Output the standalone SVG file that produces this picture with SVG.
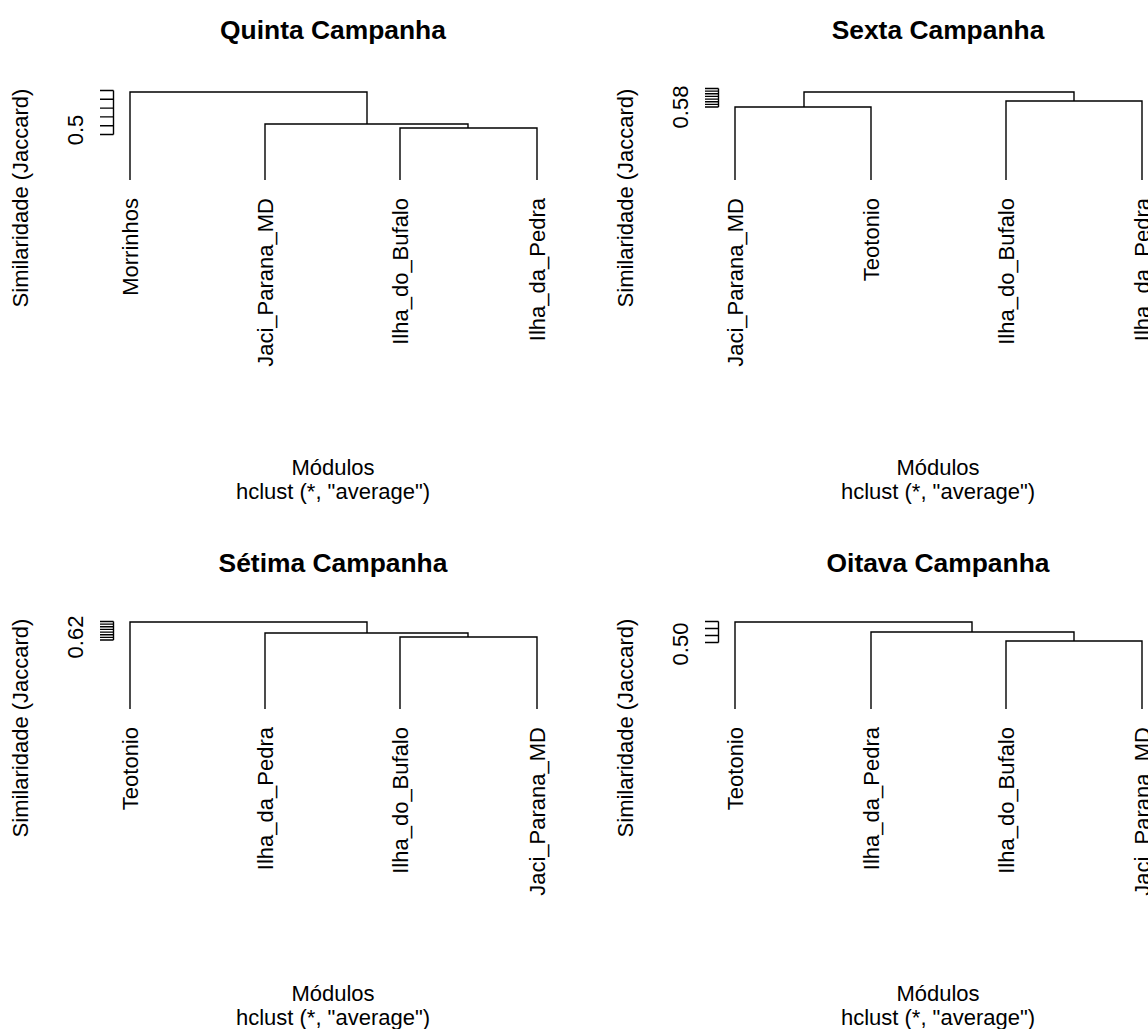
<svg xmlns="http://www.w3.org/2000/svg" width="1148" height="1029" viewBox="0 0 1148 1029">
<style>
text{font-family:"Liberation Sans",Arial,sans-serif;fill:#000}
.t{font-size:26.4px;font-weight:bold;text-anchor:middle}
.x{font-size:22px;text-anchor:middle}
.y{font-size:22px;text-anchor:middle}
.l{font-size:22px;text-anchor:end}
.d{fill:none;stroke:#000;stroke-width:1.4}
</style>
<rect width="1148" height="1029" fill="#fff"/>

<g id="quinta">
<text class="t" x="333" y="39">Quinta Campanha</text>
<text class="y" transform="translate(28,198) rotate(-90)">Similaridade (Jaccard)</text>
<text class="y" transform="translate(83,130) rotate(-90)">0.5</text>
<path class="d" d="M113.5,90.5V134.5M100,90.5H113.5M100,99.3H113.5M100,108.1H113.5M100,116.9H113.5M100,125.7H113.5M100,134.5H113.5"/>
<text class="l" transform="translate(137.5,198) rotate(-90)">Morrinhos</text>
<text class="l" transform="translate(272.5,198) rotate(-90)">Jaci_Parana_MD</text>
<text class="l" transform="translate(407.5,198) rotate(-90)">Ilha_do_Bufalo</text>
<text class="l" transform="translate(544.5,198) rotate(-90)">Ilha_da_Pedra</text>
<text class="x" x="333" y="475">Módulos</text>
<text class="x" x="333" y="499">hclust (*, "average")</text>
</g>

<g id="sexta">
<text class="t" x="938" y="39">Sexta Campanha</text>
<text class="y" transform="translate(633,198) rotate(-90)">Similaridade (Jaccard)</text>
<text class="y" transform="translate(688,107) rotate(-90)">0.58</text>
<path class="d" d="M718.5,88.5V107M705,88.5H718.5M705,91.1H718.5M705,93.8H718.5M705,96.4H718.5M705,99.1H718.5M705,101.7H718.5M705,104.4H718.5M705,107H718.5"/>
<text class="l" transform="translate(742.5,198) rotate(-90)">Jaci_Parana_MD</text>
<text class="l" transform="translate(878.5,198) rotate(-90)">Teotonio</text>
<text class="l" transform="translate(1013.5,198) rotate(-90)">Ilha_do_Bufalo</text>
<text class="l" transform="translate(1149.5,198) rotate(-90)">Ilha_da_Pedra</text>
<text class="x" x="938" y="475">Módulos</text>
<text class="x" x="938" y="499">hclust (*, "average")</text>
</g>

<g id="setima">
<text class="t" x="333" y="572">Sétima Campanha</text>
<text class="y" transform="translate(28,728) rotate(-90)">Similaridade (Jaccard)</text>
<text class="y" transform="translate(83,637) rotate(-90)">0.62</text>
<path class="d" d="M113.5,621.5V640M100,621.5H113.5M100,624.1H113.5M100,626.8H113.5M100,629.4H113.5M100,632.1H113.5M100,634.7H113.5M100,637.4H113.5M100,640H113.5"/>
<text class="l" transform="translate(137.5,727) rotate(-90)">Teotonio</text>
<text class="l" transform="translate(272.5,727) rotate(-90)">Ilha_da_Pedra</text>
<text class="l" transform="translate(407.5,727) rotate(-90)">Ilha_do_Bufalo</text>
<text class="l" transform="translate(544.5,727) rotate(-90)">Jaci_Parana_MD</text>
<text class="x" x="333" y="1001">Módulos</text>
<text class="x" x="333" y="1025">hclust (*, "average")</text>
</g>

<g id="oitava">
<text class="t" x="938" y="572">Oitava Campanha</text>
<text class="y" transform="translate(633,728) rotate(-90)">Similaridade (Jaccard)</text>
<text class="y" transform="translate(688,644) rotate(-90)">0.50</text>
<path class="d" d="M718.5,621.5V642.5M705,621.5H718.5M705,628.5H718.5M705,635.5H718.5M705,642.5H718.5"/>
<text class="l" transform="translate(742.5,727) rotate(-90)">Teotonio</text>
<text class="l" transform="translate(878.5,727) rotate(-90)">Ilha_da_Pedra</text>
<text class="l" transform="translate(1013.5,727) rotate(-90)">Ilha_do_Bufalo</text>
<text class="l" transform="translate(1149.5,727) rotate(-90)">Jaci_Parana_MD</text>
<text class="x" x="938" y="1001">Módulos</text>
<text class="x" x="938" y="1025">hclust (*, "average")</text>
</g>

<g id="connectors">
<path class="d" d="M130,180V92H367V124M265,180V124H468V128M400,180V128H537V180"/>
<path class="d" d="M735,180V107H871V180M804,107V92H1074V101M1006,180V101H1142V180"/>
<path class="d" d="M130,709V622H367V633M265,709V633H468V637M400,709V637H537V709"/>
<path class="d" d="M735,709V622H972V632M871,709V632H1074V641M1006,709V641H1142V709"/>
</g>
</svg>
